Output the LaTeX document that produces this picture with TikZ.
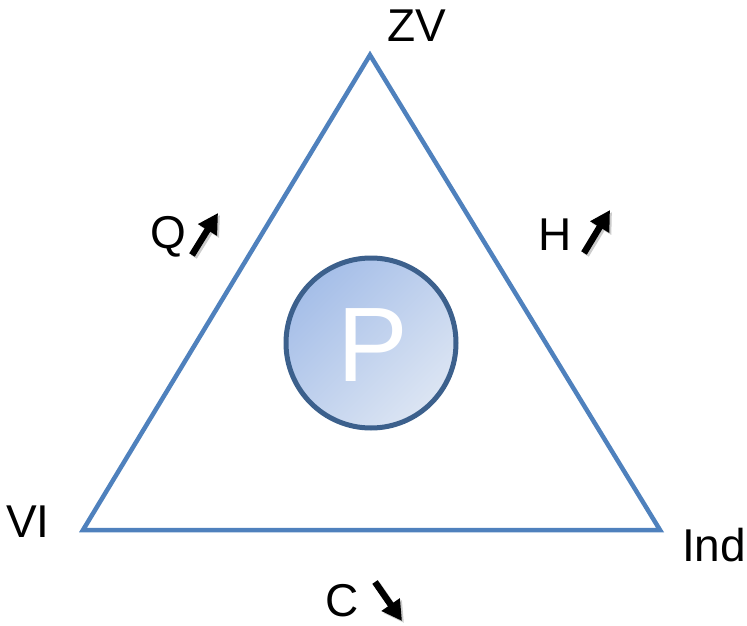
\documentclass[tikz,border=0pt]{standalone}
\usepackage{fontspec}
\setmainfont{Liberation Sans}
\usetikzlibrary{arrows.meta,shadows}
\definecolor{triblue}{RGB}{79,129,189}
\definecolor{circborder}{RGB}{60,96,140}
\definecolor{gradA}{RGB}{165,190,232}
\definecolor{gradB}{RGB}{220,229,243}
\tikzset{
  lbl/.style={font=\fontsize{46}{46}\selectfont, text=black, inner sep=0pt},
  trend/.style={line width=6.5pt, -{Triangle[length=20pt,width=21pt]}, black,
     preaction={draw=black!20, line width=6.5pt, transform canvas={shift={(2pt,-2pt)}}, -{Triangle[length=20pt,width=21pt]}}}
}
\begin{document}
\begin{tikzpicture}[x=1pt,y=-1pt]
\useasboundingbox (0,0) rectangle (747,626);
\coordinate (T) at (370,55);
\coordinate (L) at (83,530);
\coordinate (R) at (660,530);
\draw[triblue, line width=4.5pt, line join=miter] (T) -- (L) -- (R) -- cycle;
\node[circle, minimum size=170pt, draw=circborder, line width=5pt,
      left color=gradA, right color=gradB, shading angle=45,
      shading=axis] (P) at (371,343) {};
\node[font=\fontsize{106}{106}\selectfont, text=white, inner sep=0pt] (Plbl) at (373,345) {P};
\node[lbl] (ZV) at (417,26) {ZV};
\node[lbl] (VI) at (28,522) {VI};
\node[lbl] (Ind) at (714,545) {Ind};
\node[lbl] (Q) at (168,237) {Q};
\node[lbl] (H) at (555,235) {H};
\node[lbl] (C) at (342,601) {C};
\coordinate (q1) at (192,255); \coordinate (q2) at (218,213);
\coordinate (h1) at (584,253); \coordinate (h2) at (610,210);
\coordinate (c1) at (375,582); \coordinate (c2) at (402,621);
\draw[trend] (q1) -- (q2);
\draw[trend] (h1) -- (h2);
\draw[trend] (c1) -- (c2);
\end{tikzpicture}
\end{document}
